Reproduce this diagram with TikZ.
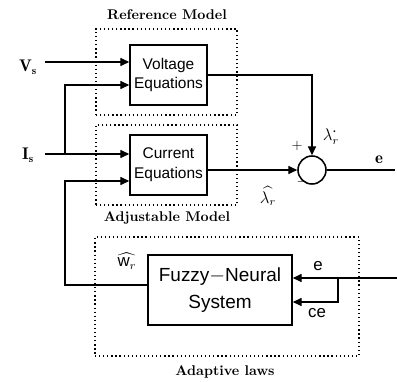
\documentclass[tikz,border=0pt]{standalone}
\usepackage{amsmath}
\usepackage{fontspec}
\setsansfont{Liberation Sans}
\usetikzlibrary{arrows.meta,positioning,calc}
\tikzset{
  bloco/.style={draw, line width=1.1pt, align=center, font=\sffamily\fontsize{11}{14}\selectfont,
                minimum width=1.925cm, minimum height=1.5cm, inner sep=2pt},
  moldura/.style={draw, dotted, line width=0.9pt, inner sep=0pt},
  somador/.style={draw, circle, line width=1.1pt, minimum size=0.7cm, inner sep=0pt},
  sinal/.style={-{Triangle[length=2.2mm,width=2mm]}, line width=0.8pt},
  linha/.style={line width=0.8pt},
  titulo/.style={font=\bfseries},
  rotulo/.style={font=\normalsize, inner sep=0.5pt},
}

\begin{document}
\begin{tikzpicture}[x=0.025cm, y=-0.025cm]
  \useasboundingbox (0,0) rectangle (397,382);

  % --- Molduras pontilhadas ----------------------------------------------------
  \node[moldura, minimum width=3.525cm, minimum height=2.15cm] (refmodel) at (166.5,72) {};
  \node[moldura, minimum width=3.525cm, minimum height=2.0cm]  (adjmodel) at (166.5,165) {};
  \node[moldura, minimum width=6.6cm, minimum height=2.975cm]  (adaptive) at (227,296.5) {};

  \node[titulo] (reftit)   at (167,15)  {Reference Model};
  \node[titulo] (adjtit)   at (167,218) {Adjustable Model};
  \node[titulo] (adapttit) at (225,372) {Adaptive laws};

  % --- Blocos ----------------------------------------------------------------
  \node[bloco] (voltage) at (168.5,75)  {Voltage\\Equations};
  \node[bloco] (current) at (168.5,165) {Current\\Equations};
  \node[bloco, font=\sffamily\fontsize{13.5}{16}\selectfont, minimum width=3.6cm, minimum height=1.75cm]
       (fuzzy) at (220,290) {Fuzzy$-$Neural\\[3pt]System};
  \node[somador] (sum) at (312,170) {};

  % --- Entradas ----------------------------------------------------------------
  \node[rotulo, font=\large] (vs) at (28,67)  {$\mathbf{V_s}$};
  \node[rotulo, font=\large] (is) at (28,155) {$\mathbf{I_s}$};
  \coordinate (vsin) at (45,62);
  \coordinate (isin) at (45,154);
  \coordinate (isbr) at (65,154);
  \coordinate (wbr)  at (65,285);
  \coordinate (eout) at (395,170);
  \coordinate (ein)  at (397,278);
  \coordinate (cebr) at (338,278);

  % --- Ligações: modelos ---------------------------------------------------------
  \draw[sinal] (vsin) -- (vsin -| voltage.west);
  \draw[sinal] (isin) -- (isin -| current.west);
  \draw[sinal] (isbr) |- ($(voltage.west)+(0,10)$);
  \draw[sinal] ($(fuzzy.west)+(0,-5)$) -- (wbr) |- ($(current.west)+(0,16)$);

  % --- Ligações: somador -------------------------------------------------------
  \draw[sinal] (voltage.east) -| (sum.north);
  \draw[sinal] (current.east |- sum.west) -- (sum.west);
  \draw[linha] (sum.east) -- (eout);

  % --- Ligações: leis adaptativas ---------------------------------------------
  \draw[sinal] (ein) -- (ein -| fuzzy.east);
  \draw[sinal] (cebr) |- ($(fuzzy.east)+(0,12)$);

  % --- Rótulos -----------------------------------------------------------------
  \node[rotulo] (plus)  at (297,146) {$+$};
  \node[rotulo, font=\large] (lstar) at (331,137) {$\lambda_r^{\boldsymbol{\cdot}}$};
  \node[rotulo] (minus) at (302,182) {$-$};
  \node[rotulo, font=\large] (lhat)  at (268,196) {$\widehat{\lambda_r}$};
  \node[rotulo, font=\large] (elab)  at (379,160) {$\mathbf{e}$};
  \node[rotulo, font=\sffamily\large] (whatlab) at (127,261) {$\widehat{\mathsf{w}_r}$};
  \node[rotulo, font=\sffamily\large] (einlab)  at (318,266) {e};
  \node[rotulo, font=\sffamily\large] (celab)   at (317,313) {ce};
\end{tikzpicture}
\end{document}
